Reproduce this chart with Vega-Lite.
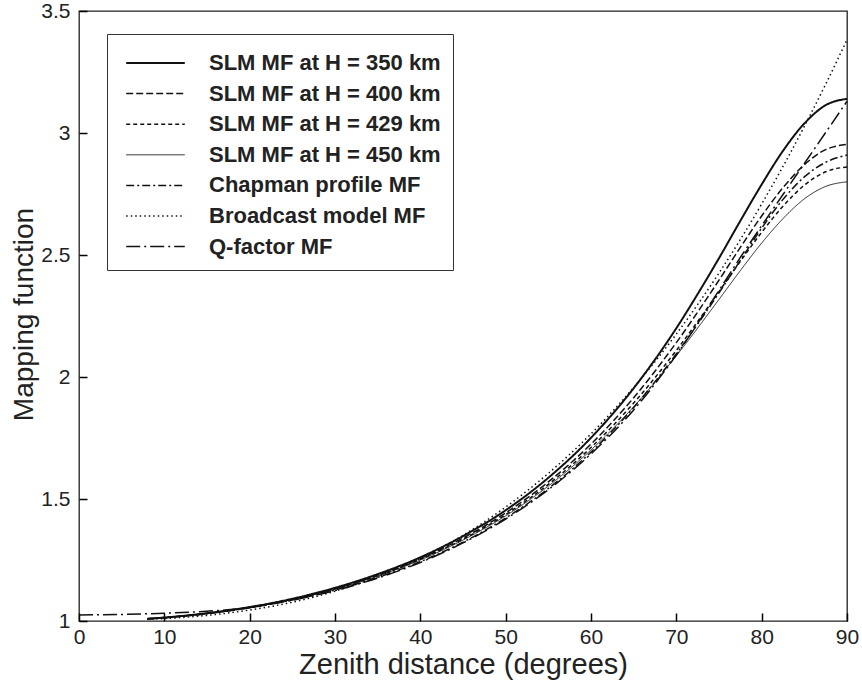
{
  "$schema": "https://vega.github.io/schema/vega-lite/v6.json",
  "width": 768,
  "height": 610,
  "autosize": {"type": "none"},
  "padding": {"left": 79, "top": 11, "right": 15, "bottom": 60},
  "background": "white",
  "config": {
    "font": "Liberation Sans",
    "view": {"stroke": "#222", "strokeWidth": 1.3},
    "axis": {"grid": false, "domain": false, "ticks": true, "tickColor": "#000", "labelColor": "#222", "titleColor": "#222", "labelFont": "Liberation Sans", "titleFont": "Liberation Sans", "labelFontSize": 21, "titleFontWeight": "normal", "tickWidth": 1.5, "zindex": 1}
  },
  "data": {"values": [
    {"model": "SLM MF at H = 350 km", "z": 8, "mf": 1.009},
    {"model": "SLM MF at H = 350 km", "z": 10, "mf": 1.014},
    {"model": "SLM MF at H = 350 km", "z": 15, "mf": 1.032},
    {"model": "SLM MF at H = 350 km", "z": 20, "mf": 1.057},
    {"model": "SLM MF at H = 350 km", "z": 25, "mf": 1.091},
    {"model": "SLM MF at H = 350 km", "z": 30, "mf": 1.136},
    {"model": "SLM MF at H = 350 km", "z": 35, "mf": 1.192},
    {"model": "SLM MF at H = 350 km", "z": 40, "mf": 1.261},
    {"model": "SLM MF at H = 350 km", "z": 45, "mf": 1.348},
    {"model": "SLM MF at H = 350 km", "z": 50, "mf": 1.454},
    {"model": "SLM MF at H = 350 km", "z": 55, "mf": 1.587},
    {"model": "SLM MF at H = 350 km", "z": 60, "mf": 1.751},
    {"model": "SLM MF at H = 350 km", "z": 65, "mf": 1.954},
    {"model": "SLM MF at H = 350 km", "z": 70, "mf": 2.200},
    {"model": "SLM MF at H = 350 km", "z": 72.5, "mf": 2.340},
    {"model": "SLM MF at H = 350 km", "z": 75, "mf": 2.487},
    {"model": "SLM MF at H = 350 km", "z": 77.5, "mf": 2.640},
    {"model": "SLM MF at H = 350 km", "z": 80, "mf": 2.789},
    {"model": "SLM MF at H = 350 km", "z": 82.5, "mf": 2.927},
    {"model": "SLM MF at H = 350 km", "z": 85, "mf": 3.039},
    {"model": "SLM MF at H = 350 km", "z": 87.5, "mf": 3.114},
    {"model": "SLM MF at H = 350 km", "z": 90, "mf": 3.140},

    {"model": "SLM MF at H = 400 km", "z": 8, "mf": 1.009},
    {"model": "SLM MF at H = 400 km", "z": 10, "mf": 1.014},
    {"model": "SLM MF at H = 400 km", "z": 15, "mf": 1.031},
    {"model": "SLM MF at H = 400 km", "z": 20, "mf": 1.056},
    {"model": "SLM MF at H = 400 km", "z": 25, "mf": 1.090},
    {"model": "SLM MF at H = 400 km", "z": 30, "mf": 1.133},
    {"model": "SLM MF at H = 400 km", "z": 35, "mf": 1.188},
    {"model": "SLM MF at H = 400 km", "z": 40, "mf": 1.256},
    {"model": "SLM MF at H = 400 km", "z": 45, "mf": 1.340},
    {"model": "SLM MF at H = 400 km", "z": 50, "mf": 1.443},
    {"model": "SLM MF at H = 400 km", "z": 55, "mf": 1.570},
    {"model": "SLM MF at H = 400 km", "z": 60, "mf": 1.725},
    {"model": "SLM MF at H = 400 km", "z": 65, "mf": 1.915},
    {"model": "SLM MF at H = 400 km", "z": 70, "mf": 2.141},
    {"model": "SLM MF at H = 400 km", "z": 75, "mf": 2.397},
    {"model": "SLM MF at H = 400 km", "z": 77.5, "mf": 2.531},
    {"model": "SLM MF at H = 400 km", "z": 80, "mf": 2.660},
    {"model": "SLM MF at H = 400 km", "z": 82.5, "mf": 2.776},
    {"model": "SLM MF at H = 400 km", "z": 85, "mf": 2.870},
    {"model": "SLM MF at H = 400 km", "z": 87.5, "mf": 2.932},
    {"model": "SLM MF at H = 400 km", "z": 90, "mf": 2.953},

    {"model": "SLM MF at H = 429 km", "z": 8, "mf": 1.009},
    {"model": "SLM MF at H = 429 km", "z": 10, "mf": 1.014},
    {"model": "SLM MF at H = 429 km", "z": 15, "mf": 1.031},
    {"model": "SLM MF at H = 429 km", "z": 20, "mf": 1.056},
    {"model": "SLM MF at H = 429 km", "z": 25, "mf": 1.089},
    {"model": "SLM MF at H = 429 km", "z": 30, "mf": 1.132},
    {"model": "SLM MF at H = 429 km", "z": 35, "mf": 1.186},
    {"model": "SLM MF at H = 429 km", "z": 40, "mf": 1.253},
    {"model": "SLM MF at H = 429 km", "z": 45, "mf": 1.335},
    {"model": "SLM MF at H = 429 km", "z": 50, "mf": 1.436},
    {"model": "SLM MF at H = 429 km", "z": 55, "mf": 1.560},
    {"model": "SLM MF at H = 429 km", "z": 60, "mf": 1.711},
    {"model": "SLM MF at H = 429 km", "z": 65, "mf": 1.893},
    {"model": "SLM MF at H = 429 km", "z": 70, "mf": 2.109},
    {"model": "SLM MF at H = 429 km", "z": 75, "mf": 2.350},
    {"model": "SLM MF at H = 429 km", "z": 77.5, "mf": 2.474},
    {"model": "SLM MF at H = 429 km", "z": 80, "mf": 2.593},
    {"model": "SLM MF at H = 429 km", "z": 82.5, "mf": 2.700},
    {"model": "SLM MF at H = 429 km", "z": 85, "mf": 2.786},
    {"model": "SLM MF at H = 429 km", "z": 87.5, "mf": 2.841},
    {"model": "SLM MF at H = 429 km", "z": 90, "mf": 2.861},

    {"model": "SLM MF at H = 450 km", "z": 8, "mf": 1.009},
    {"model": "SLM MF at H = 450 km", "z": 10, "mf": 1.013},
    {"model": "SLM MF at H = 450 km", "z": 15, "mf": 1.031},
    {"model": "SLM MF at H = 450 km", "z": 20, "mf": 1.055},
    {"model": "SLM MF at H = 450 km", "z": 25, "mf": 1.088},
    {"model": "SLM MF at H = 450 km", "z": 30, "mf": 1.131},
    {"model": "SLM MF at H = 450 km", "z": 35, "mf": 1.184},
    {"model": "SLM MF at H = 450 km", "z": 40, "mf": 1.250},
    {"model": "SLM MF at H = 450 km", "z": 45, "mf": 1.332},
    {"model": "SLM MF at H = 450 km", "z": 50, "mf": 1.431},
    {"model": "SLM MF at H = 450 km", "z": 55, "mf": 1.553},
    {"model": "SLM MF at H = 450 km", "z": 60, "mf": 1.701},
    {"model": "SLM MF at H = 450 km", "z": 65, "mf": 1.878},
    {"model": "SLM MF at H = 450 km", "z": 70, "mf": 2.087},
    {"model": "SLM MF at H = 450 km", "z": 75, "mf": 2.318},
    {"model": "SLM MF at H = 450 km", "z": 77.5, "mf": 2.436},
    {"model": "SLM MF at H = 450 km", "z": 80, "mf": 2.549},
    {"model": "SLM MF at H = 450 km", "z": 82.5, "mf": 2.649},
    {"model": "SLM MF at H = 450 km", "z": 85, "mf": 2.730},
    {"model": "SLM MF at H = 450 km", "z": 87.5, "mf": 2.781},
    {"model": "SLM MF at H = 450 km", "z": 90, "mf": 2.800},

    {"model": "Chapman profile MF", "z": 8, "mf": 1.008},
    {"model": "Chapman profile MF", "z": 10, "mf": 1.013},
    {"model": "Chapman profile MF", "z": 15, "mf": 1.030},
    {"model": "Chapman profile MF", "z": 20, "mf": 1.054},
    {"model": "Chapman profile MF", "z": 25, "mf": 1.086},
    {"model": "Chapman profile MF", "z": 30, "mf": 1.127},
    {"model": "Chapman profile MF", "z": 35, "mf": 1.179},
    {"model": "Chapman profile MF", "z": 40, "mf": 1.243},
    {"model": "Chapman profile MF", "z": 45, "mf": 1.323},
    {"model": "Chapman profile MF", "z": 50, "mf": 1.422},
    {"model": "Chapman profile MF", "z": 55, "mf": 1.543},
    {"model": "Chapman profile MF", "z": 60, "mf": 1.692},
    {"model": "Chapman profile MF", "z": 65, "mf": 1.875},
    {"model": "Chapman profile MF", "z": 70, "mf": 2.095},
    {"model": "Chapman profile MF", "z": 75, "mf": 2.345},
    {"model": "Chapman profile MF", "z": 77.5, "mf": 2.478},
    {"model": "Chapman profile MF", "z": 80, "mf": 2.610},
    {"model": "Chapman profile MF", "z": 82.5, "mf": 2.728},
    {"model": "Chapman profile MF", "z": 85, "mf": 2.820},
    {"model": "Chapman profile MF", "z": 87.5, "mf": 2.880},
    {"model": "Chapman profile MF", "z": 90, "mf": 2.910},

    {"model": "Broadcast model MF", "z": 8, "mf": 1.007},
    {"model": "Broadcast model MF", "z": 10, "mf": 1.010},
    {"model": "Broadcast model MF", "z": 15, "mf": 1.023},
    {"model": "Broadcast model MF", "z": 20, "mf": 1.045},
    {"model": "Broadcast model MF", "z": 25, "mf": 1.077},
    {"model": "Broadcast model MF", "z": 30, "mf": 1.122},
    {"model": "Broadcast model MF", "z": 35, "mf": 1.181},
    {"model": "Broadcast model MF", "z": 40, "mf": 1.257},
    {"model": "Broadcast model MF", "z": 45, "mf": 1.351},
    {"model": "Broadcast model MF", "z": 50, "mf": 1.467},
    {"model": "Broadcast model MF", "z": 55, "mf": 1.605},
    {"model": "Broadcast model MF", "z": 60, "mf": 1.767},
    {"model": "Broadcast model MF", "z": 65, "mf": 1.957},
    {"model": "Broadcast model MF", "z": 70, "mf": 2.176},
    {"model": "Broadcast model MF", "z": 75, "mf": 2.426},
    {"model": "Broadcast model MF", "z": 77.5, "mf": 2.563},
    {"model": "Broadcast model MF", "z": 80, "mf": 2.709},
    {"model": "Broadcast model MF", "z": 82.5, "mf": 2.863},
    {"model": "Broadcast model MF", "z": 85, "mf": 3.027},
    {"model": "Broadcast model MF", "z": 87.5, "mf": 3.200},
    {"model": "Broadcast model MF", "z": 90, "mf": 3.382},

    {"model": "Q-factor MF", "z": 0, "mf": 1.025},
    {"model": "Q-factor MF", "z": 5, "mf": 1.027},
    {"model": "Q-factor MF", "z": 10, "mf": 1.032},
    {"model": "Q-factor MF", "z": 15, "mf": 1.040},
    {"model": "Q-factor MF", "z": 20, "mf": 1.055},
    {"model": "Q-factor MF", "z": 25, "mf": 1.085},
    {"model": "Q-factor MF", "z": 30, "mf": 1.125},
    {"model": "Q-factor MF", "z": 35, "mf": 1.176},
    {"model": "Q-factor MF", "z": 40, "mf": 1.240},
    {"model": "Q-factor MF", "z": 45, "mf": 1.320},
    {"model": "Q-factor MF", "z": 50, "mf": 1.418},
    {"model": "Q-factor MF", "z": 55, "mf": 1.538},
    {"model": "Q-factor MF", "z": 60, "mf": 1.685},
    {"model": "Q-factor MF", "z": 65, "mf": 1.865},
    {"model": "Q-factor MF", "z": 70, "mf": 2.090},
    {"model": "Q-factor MF", "z": 75, "mf": 2.355},
    {"model": "Q-factor MF", "z": 77.5, "mf": 2.490},
    {"model": "Q-factor MF", "z": 80, "mf": 2.620},
    {"model": "Q-factor MF", "z": 82.5, "mf": 2.748},
    {"model": "Q-factor MF", "z": 85, "mf": 2.875},
    {"model": "Q-factor MF", "z": 87.5, "mf": 3.002},
    {"model": "Q-factor MF", "z": 90, "mf": 3.130}
  ]},
  "mark": {"type": "line", "interpolate": "monotone", "color": "#111"},
  "encoding": {
    "x": {
      "field": "z", "type": "quantitative",
      "scale": {"domain": [0, 90], "nice": false, "zero": false},
      "axis": {"values": [0, 10, 20, 30, 40, 50, 60, 70, 80, 90], "tickSize": -8, "labelPadding": 13, "title": "Zenith distance (degrees)", "titleFontSize": 29, "titleY": 52, "titleBaseline": "alphabetic", "labelFlush": false}
    },
    "y": {
      "field": "mf", "type": "quantitative",
      "scale": {"domain": [1, 3.5], "nice": false, "zero": false},
      "axis": {"values": [1, 1.5, 2, 2.5, 3, 3.5], "format": "~g", "tickSize": -8, "labelPadding": 17, "title": "Mapping function", "titleFontSize": 28, "titleX": -55, "titleY": 303, "titleBaseline": "middle", "titleAngle": -90, "titleAlign": "center", "labelFlush": false}
    },
    "detail": {"field": "model", "type": "nominal"},
    "strokeDash": {
      "field": "model", "type": "nominal",
      "scale": {
        "domain": ["SLM MF at H = 350 km", "SLM MF at H = 400 km", "SLM MF at H = 429 km", "SLM MF at H = 450 km", "Chapman profile MF", "Broadcast model MF", "Q-factor MF"],
        "range": [[1, 0], [7, 3], [4, 3], [1, 0], [8, 3, 2, 3], [1.5, 3], [14, 4, 2, 4]]
      },
      "legend": {
        "orient": "none", "legendX": 28, "legendY": 23,
        "title": " ", "titleFontSize": 4, "titlePadding": 5,
        "symbolType": "stroke", "symbolSize": 3430, "symbolStrokeColor": "#111",
        "labelFontSize": 22, "labelFontWeight": "bold", "labelColor": "#222", "labelFont": "Liberation Sans",
        "labelOffset": 23, "labelLimit": 400,
        "clipHeight": 16, "rowPadding": 8.6,
        "padding": 12, "symbolOffset": 6,
        "strokeColor": "#333", "fillColor": "white"
      }
    },
    "strokeWidth": {
      "field": "model", "type": "nominal",
      "scale": {
        "type": "ordinal",
        "domain": ["SLM MF at H = 350 km", "SLM MF at H = 400 km", "SLM MF at H = 429 km", "SLM MF at H = 450 km", "Chapman profile MF", "Broadcast model MF", "Q-factor MF"],
        "range": [2, 1.5, 1.5, 0.9, 1.5, 1.5, 1.5]
      }
    }
  }
}
